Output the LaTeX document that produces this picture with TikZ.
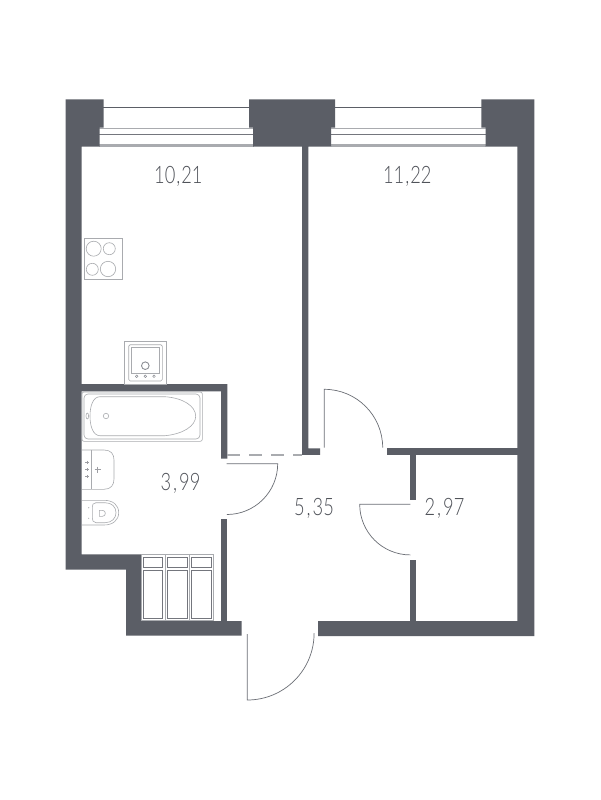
\documentclass[tikz,border=0pt]{standalone}
\usepackage{fontspec}
\setmainfont[FakeStretch=0.76]{Lato Light}
\definecolor{wallc}{HTML}{5B5E66}
\definecolor{fixc}{HTML}{A9ABAF}
\definecolor{textc}{HTML}{4F5259}
\newcommand{\areacomma}[1]{\kern#1pt,\kern#1pt\relax}
\tikzset{
  wall/.style={fill=wallc,draw=none},
  doorline/.style={draw=wallc!90,line width=0.7pt},
  fixture/.style={draw=fixc,line width=0.6pt,fill=white},
  fixdark/.style={draw=wallc!85,line width=0.9pt,fill=white},
  area/.style={text=textc,font=\fontsize{24}{24}\selectfont,inner sep=0pt}
}
\begin{document}
\begin{tikzpicture}[x=1pt,y=-1pt]
\useasboundingbox[fill=white] (0,0) rectangle (600,800);
% windows
\draw[wallc,line width=1pt] (103,107.3) -- (250,107.3) (334,107.3) -- (482,107.3);
\foreach \a/\b in {99/254,331/486}{
  \fill[fixc] (\a,127.6) rectangle (\b,129);
  \fill[wallc!85] (\a,133.7) rectangle (\b,135);
  \fill[fixc] (\a,144.4) rectangle (\b,146.7);
}
% outer walls and piers
\fill[wall] (65.7,99.4) -- (103.7,99.4) -- (103.7,127.7) -- (99.7,127.7) -- (99.7,146.7) -- (81.6,146.7)
  -- (81.6,554.3) -- (141,554.3) -- (141,621) -- (241.7,621) -- (241.7,635.5) -- (126,635.5) -- (126,569.5) -- (65.7,569.5) -- cycle;
\fill[wall] (249,99.4) -- (335,99.4) -- (335,127.7) -- (331,127.7) -- (331,146.7) -- (308.4,146.7)
  -- (308.4,448.3) -- (320,448.3) -- (320,454.8) -- (302.2,454.8) -- (302.2,146.7) -- (253,146.7) -- (253,127.7) -- (249,127.7) -- cycle;
\fill[wall] (481.3,99.4) -- (534.3,99.4) -- (534.3,636) -- (318,636) -- (318,621) -- (517.3,621) -- (517.3,146.7) -- (485.7,146.7) -- (485.7,127.7) -- (481.3,127.7) -- cycle;
% inner walls
\fill[wall] (81,384) -- (227.3,384) -- (227.3,458.7) -- (221.2,458.7) -- (221.2,391.3) -- (81,391.3) -- cycle;
\fill[wall] (221.2,519.3) rectangle (227.2,622);
\fill[wall] (387,448.3) rectangle (518,454.8);
\fill[wall] (410.3,454) rectangle (416.2,500);
\fill[wall] (410.3,560.3) rectangle (416.2,622);
% dashed opening
\draw[fixc,line width=1.3pt,dash pattern=on 13pt off 9pt] (227.3,455) -- (302,455);
% doors
\draw[doorline] (226.7,463.7) -- (277.7,463.7) arc[start angle=0,end angle=90,radius=50.8];
\draw[doorline] (324.3,447.7) -- (324.3,389.3) arc[start angle=-90,end angle=0,radius=58.4];
\draw[doorline] (410.3,504.3) -- (359.7,504.3) arc[start angle=180,end angle=90,radius=50.6];
\draw[doorline] (247.3,634) -- (247.3,700) arc[start angle=90,end angle=0,radius=66.8];
% hob
\draw[fixture] (84,238.3) rectangle (122,279.7);
\draw[fixture] (93.7,248.7) circle[radius=7.5] (109.3,248.7) circle[radius=6] (92.3,269.3) circle[radius=6] (108,269) circle[radius=7.7];
% kitchen sink
\draw[fixture] (124.3,341.3) rectangle (166.7,384);
\draw[fixture,rounded corners=1.5pt] (128.7,344.7) rectangle (162.3,381);
\draw[fixture] (131.3,347) rectangle (159.3,373.3);
\draw[fixture,draw=wallc!70,line width=0.9pt] (145.3,365.7) circle[radius=3.8];
\foreach \x in {136.7,145.3,154}{\draw[fixture,draw=wallc!70,line width=0.5pt] (\x,376.3) circle[radius=1.3];}
% bath
\draw[fixture,rounded corners=2pt] (82,392) rectangle (202.3,441.3);
\draw[fixture,rounded corners=4pt] (84,394) rectangle (200,439);
\draw[fixture] (100,396.7) -- (165,396.7) .. controls (183,398) and (195.7,406) .. (195.7,416.2)
  .. controls (195.7,426) and (183,434) .. (165,435.7) -- (100,435.7) .. controls (93,435.7) and (90,426) .. (90,416.2)
  .. controls (90,406) and (93,396.7) .. (100,396.7) -- cycle;
\draw[fixture] (106,416) circle[radius=2.7];
\draw[fixture] (87.3,416) ellipse[x radius=1.3,y radius=3];
% wash basin
\draw[fixture] (82,450) -- (104,450) .. controls (111,450) and (114,454) .. (114,460) -- (114,479)
  .. controls (114,485) and (111,489.3) .. (104,489.3) -- (82,489.3);
\draw[fixture] (91,450) -- (91,489.3);
\foreach \y in {462.3,469.7,476.7}{\draw[wallc!60,line width=0.8pt] (85.3,\y) -- (88.7,\y) (87,\y-1.7) -- (87,\y+1.7);}
\draw[wallc!60,line width=1.3pt] (94.5,469.7) -- (101,469.7) (97.7,466.5) -- (97.7,473);
% toilet
\draw[fixture] (82,500.3) -- (104,500.3) .. controls (113,500.3) and (118.7,505) .. (118.7,512.7)
  .. controls (118.7,520) and (113,525) .. (104,525) -- (82,525);
\draw[fixture] (96,502.7) -- (105,502.7) .. controls (112,502.7) and (116,507) .. (116,512.7)
  .. controls (116,518) and (112,522.7) .. (105,522.7) -- (96,522.7) .. controls (93,522.7) and (92.3,520) .. (92.3,518) -- (92.3,507)
  .. controls (92.3,505) and (93,502.7) .. (96,502.7) -- cycle;
\draw[fixc,line width=0.6pt] (99.3,510.3) -- (102.5,510.3) .. controls (104.5,510.3) and (105.3,512) .. (105.3,513.3)
  .. controls (105.3,515) and (104.5,516.3) .. (102.5,516.3) -- (99.3,516.3) -- cycle;
\fill[fixc] (88.7,507.7) circle[radius=0.6] (88.7,518.3) circle[radius=0.6];
% closets
\draw[fixture] (141,554.3) rectangle (213.3,620.6);
\draw[fixc,line width=0.9pt] (165,554.3) -- (165,620.6) (189,554.3) -- (189,620.6);
\foreach \a/\b in {143.3/162.7,167.3/187,191.3/211}{
  \draw[fixdark] (\a,557.3) rectangle (\b,567.3);
  \draw[fixdark] (\a,570.3) rectangle (\b,618.3);
}
% area labels
\node[area] (kitchen) at (178.4,176.5) {10\areacomma{1}21};
\node[area] (room) at (407.3,176.5) {11\areacomma{1}22};
\node[area] (bath) at (180.5,483.5) {3\areacomma{2}99};
\node[area] (hall) at (314,508.5) {5\areacomma{2}35};
\node[area] (store) at (444.5,508.5) {2\areacomma{2}97};
\end{tikzpicture}
\end{document}
